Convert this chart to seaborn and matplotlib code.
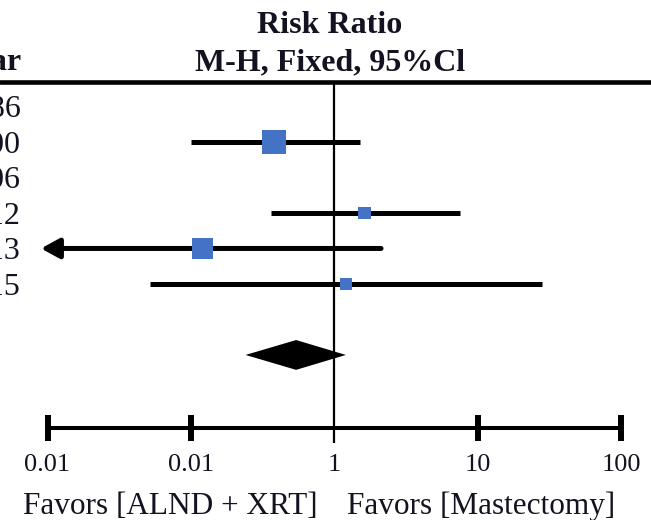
import numpy as np
import pandas as pd
import matplotlib
matplotlib.use("Agg")
import matplotlib.pyplot as plt
import seaborn as sns

# Study rows (year of publication) and their risk ratios with 95% CI
years = ["1986", "2000", "2006", "2012", "2013", "2015"]
risk_ratio = [np.nan, 0.38, np.nan, 1.62, 0.12, 1.20]
ci_lower = [np.nan, 0.10, np.nan, 0.36, 0.003, 0.052]
ci_upper = [np.nan, 1.51, np.nan, 7.5, 2.11, 28.0]
weight_pct = [np.nan, 44.3, np.nan, 12.1, 33.5, 10.1]

# Pooled Mantel-Haenszel fixed-effect estimate
pooled_rr = 0.54
pooled_lower = 0.24
pooled_upper = 1.20

tick_values = [0.01, 0.1, 1, 10, 100]
tick_labels = ["0.01", "0.01", "1", "10", "100"]

sns.set_theme(style="white")
plt.rcParams["font.family"] = ["Liberation Serif", "DejaVu Serif"]
TEXT = "#121220"
SQUARE = "#4472C4"

df = pd.DataFrame({
    "year": years,
    "row": np.arange(len(years)),
    "rr": risk_ratio,
    "lo": ci_lower,
    "hi": ci_upper,
    "w": weight_pct,
})
studies = df.dropna()

fig = plt.figure(figsize=(6.51, 5.2), dpi=100)
ax = fig.add_axes([0, 0, 1, 1])
ax.set_xscale("log")
ax.set_xlim(10 ** (-334.5 / 143.5), 10 ** ((651 - 334.5) / 143.5))
ax.set_ylim(11.65, -3.0)

pooled_row = 7
axis_row = 9.06
header_row = -0.69
arrow_limit = 0.009  # CIs below this are drawn as an arrow

# confidence intervals
for _, r in studies.iterrows():
    if r.lo < arrow_limit:
        ax.annotate("", xy=(arrow_limit, r.row), xytext=(r.hi, r.row),
                    arrowprops=dict(arrowstyle="-|>,head_length=1.1,head_width=0.6",
                                    mutation_scale=10, lw=3.6, color="black",
                                    shrinkA=0, shrinkB=0), zorder=2)
    else:
        ax.hlines(r.row, r.lo, r.hi, color="black", lw=3.6, zorder=2)

# weighted squares
c = 6.8
sns.scatterplot(data=studies, x="rr", y="row", size="w",
                sizes=(c * studies.w.min(), c * studies.w.max()),
                size_norm=(studies.w.min(), studies.w.max()),
                marker="s", color=SQUARE, linewidth=0, legend=False,
                ax=ax, zorder=3)

# pooled diamond
h = 0.42
ax.fill([pooled_lower, pooled_rr, pooled_upper, pooled_rr],
        [pooled_row, pooled_row - h, pooled_row, pooled_row + h],
        color="black", lw=0, zorder=3)

# line of no effect and header rule
ax.vlines(1, header_row, axis_row + 0.42, color="black", lw=1.6, zorder=1)
ax.axhline(header_row, color="black", lw=3.3)

# bottom axis
for s in ["left", "top", "right"]:
    ax.spines[s].set_visible(False)
ax.spines["bottom"].set_position(("data", axis_row))
ax.spines["bottom"].set_bounds(tick_values[0], tick_values[-1])
ax.spines["bottom"].set_linewidth(2.9)
ax.spines["bottom"].set_color("black")
ax.xaxis.set_minor_locator(matplotlib.ticker.NullLocator())
ax.set_xticks(tick_values)
ax.set_xticklabels(tick_labels)
ax.tick_params(axis="x", direction="inout", length=19.4, width=4.3,
               color="black", pad=9, labelsize=19, labelcolor=TEXT, bottom=True)
# the null value carries only the thin reference line, not a heavy tick
ax.xaxis.get_major_ticks()[tick_values.index(1)].tick1line.set_visible(False)
ax.set_yticks([])
ax.set_xlabel("")
ax.set_ylabel("")

# study labels
tr = ax.get_yaxis_transform()
for _, r in df.iterrows():
    ax.text(21 / 651, r.row + 0.30, r.year, transform=tr, ha="right",
            va="baseline", fontsize=23, color=TEXT)
ax.text(22 / 651, -1.03, "Year", transform=tr, ha="right", va="baseline",
        fontsize=23, fontweight="bold", color=TEXT)

# column header
ax.text(330 / 651, -2.06, "Risk Ratio", transform=tr, ha="center",
        va="baseline", fontsize=23, fontweight="bold", color=TEXT)
ax.text(330 / 651, -1.03, "M-H, Fixed, 95%Cl", transform=tr, ha="center",
        va="baseline", fontsize=23, fontweight="bold", color=TEXT)

# direction labels
fig.text(318 / 651, 6 / 520, "Favors [ALND + XRT]", ha="right", va="baseline",
         fontsize=22.5, color=TEXT)
fig.text(347 / 651, 6 / 520, "Favors [Mastectomy]", ha="left", va="baseline",
         fontsize=22.5, color=TEXT)

fig.savefig("out.png", dpi=100)
